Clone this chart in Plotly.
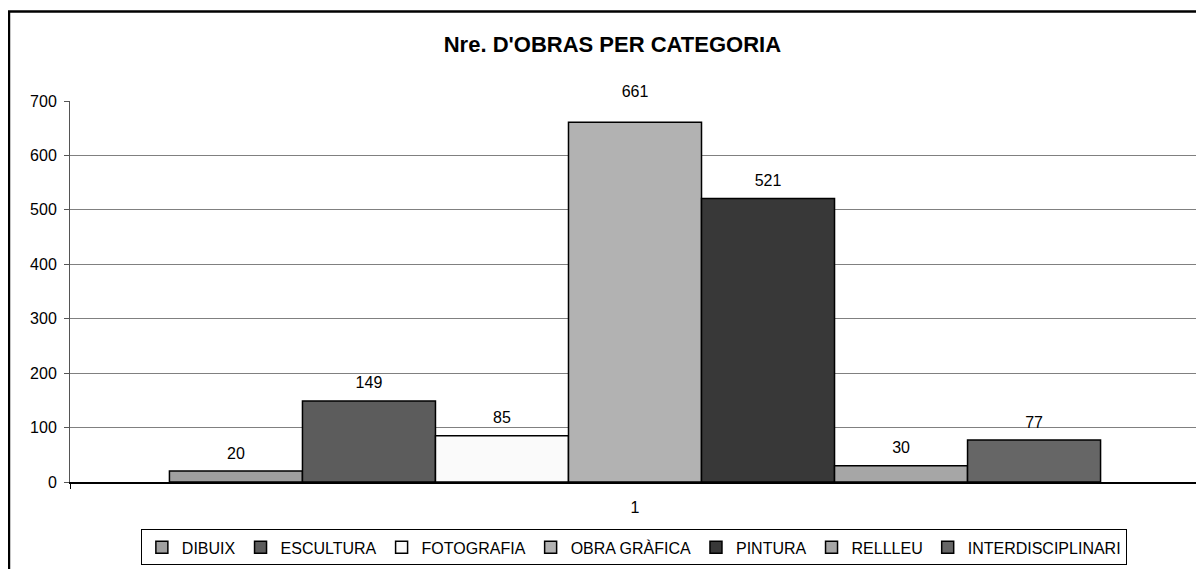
import plotly.graph_objects as go

categories = ["DIBUIX", "ESCULTURA", "FOTOGRAFIA", "OBRA GRÀFICA", "PINTURA", "RELLLEU", "INTERDISCIPLINARI"]
counts = [20, 149, 85, 661, 521, 30, 77]
group_label = ["1"]
fills = ["#a0a0a0", "#5c5c5c", "#fafafa", "#b2b2b2", "#383838", "#a6a6a6", "#666666"]

FONT = "Arial, Liberation Sans, sans-serif"
GAP = 0.176
# invisible marker size under each value label: controls how far the label floats above the bar
label_lift = {"OBRA GRÀFICA": 32}

fig = go.Figure()
for name, val, col in zip(categories, counts, fills):
    fig.add_trace(
        go.Bar(
            name=name,
            x=group_label,
            y=[val],
            marker=dict(color=col, line=dict(color="black", width=1.5)),
            hoverinfo="name+y",
        )
    )

# value labels, grouped the same way as the bars so each sits over its bar
for name, val in zip(categories, counts):
    fig.add_trace(
        go.Scatter(
            x=group_label,
            y=[val],
            mode="markers+text",
            text=[str(val)],
            textposition="top center",
            textfont=dict(family=FONT, size=16, color="black"),
            marker=dict(size=label_lift.get(name, 12), color="rgba(0,0,0,0)"),
            showlegend=False,
            hoverinfo="skip",
            cliponaxis=False,
        )
    )

fig.update_layout(
    width=1196,
    height=561,
    margin=dict(l=62, r=4, t=93, b=85),
    paper_bgcolor="white",
    plot_bgcolor="white",
    barmode="group",
    bargap=GAP,
    bargroupgap=0,
    scattermode="group",
    scattergap=GAP,
    showlegend=True,
    font=dict(family=FONT, size=16, color="black"),
    title=dict(
        text="<b>Nre. D'OBRAS PER CATEGORIA</b>",
        xref="paper",
        x=0.48,
        xanchor="center",
        y=0.936,
        yanchor="middle",
        font=dict(family=FONT, size=22, color="black"),
    ),
    legend=dict(
        orientation="h",
        x=0.499,
        xanchor="center",
        y=-0.219,
        yanchor="bottom",
        bordercolor="black",
        borderwidth=1,
        font=dict(family=FONT, size=16, color="black"),
        itemwidth=30,
        tracegroupgap=0,
    ),
    xaxis=dict(
        showgrid=False,
        showline=True,
        linecolor="black",
        linewidth=1.5,
        ticks="outside",
        tickson="boundaries",
        ticklen=5,
        tickcolor="black",
        ticklabelstandoff=10,
        tickfont=dict(family=FONT, size=16, color="black"),
    ),
    yaxis=dict(
        range=[0, 700],
        dtick=100,
        showgrid=True,
        gridcolor="#808080",
        gridwidth=1,
        showline=True,
        linecolor="#555555",
        linewidth=1,
        mirror=True,
        ticks="outside",
        ticklen=5,
        tickcolor="#555555",
        ticklabelstandoff=4,
        tickfont=dict(family=FONT, size=16, color="black"),
        zeroline=False,
    ),
    shapes=[
        dict(
            type="rect",
            xref="paper",
            yref="paper",
            x0=-0.054,
            y0=-0.4,
            x1=1.1,
            y1=1.235,
            line=dict(color="black", width=2.5),
            fillcolor="rgba(0,0,0,0)",
            layer="above",
        )
    ],
)

fig.write_html("out.html")
